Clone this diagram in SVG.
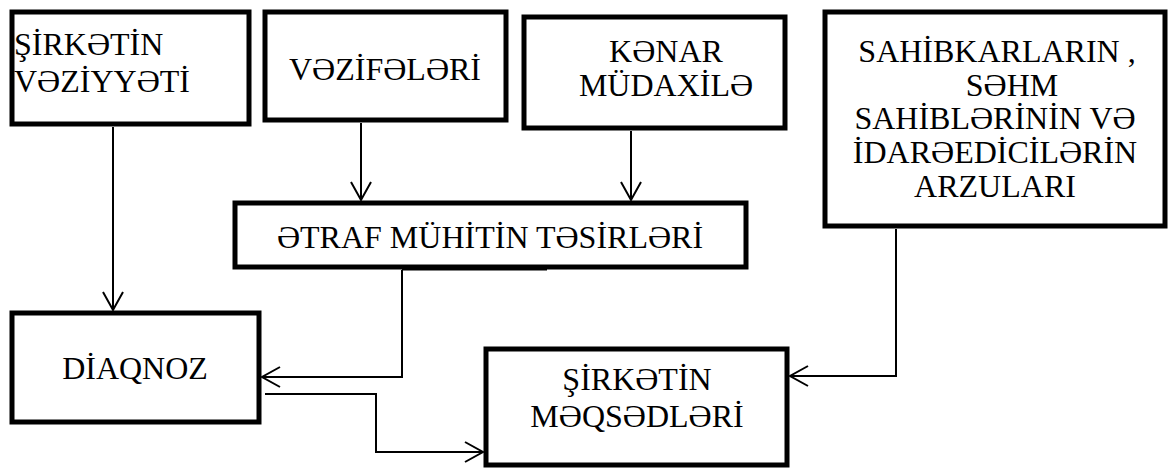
<svg xmlns="http://www.w3.org/2000/svg" width="1169" height="468" viewBox="0 0 1169 468">
<defs>
<marker id="ah" markerUnits="userSpaceOnUse" markerWidth="24" markerHeight="24" viewBox="-20 -12 22 24" refX="0" refY="0" orient="auto">
<path d="M-18,-10 L0,0 L-18,10" fill="none" stroke="#000" stroke-width="2"/>
</marker>
</defs>
<rect width="1169" height="468" fill="#fff"/>
<g id="n-vez">
<rect x="12" y="12" width="237" height="112" fill="#fff" stroke="#000" stroke-width="5"/>
<text x="14" y="55" font-family="Liberation Serif" font-size="32">ŞİRKƏTİN</text>
<text x="14" y="92" font-family="Liberation Serif" font-size="32">VƏZİYYƏTİ</text>
</g>
<g id="n-vezifeleri">
<rect x="265" y="12" width="241" height="108" fill="#fff" stroke="#000" stroke-width="5"/>
<text x="385" y="80" font-family="Liberation Serif" font-size="32" text-anchor="middle">VƏZİFƏLƏRİ</text>
</g>
<g id="n-kenar">
<rect x="524" y="17" width="261" height="111" fill="#fff" stroke="#000" stroke-width="5"/>
<text x="666" y="62" font-family="Liberation Serif" font-size="32" text-anchor="middle">KƏNAR</text>
<text x="666" y="96" font-family="Liberation Serif" font-size="32" text-anchor="middle">MÜDAXİLƏ</text>
</g>
<g id="n-arzu">
<rect x="825" y="12" width="340" height="214" fill="#fff" stroke="#000" stroke-width="5"/>
<text x="997" y="62" font-family="Liberation Serif" font-size="32" text-anchor="middle">SAHİBKARLARIN ,</text>
<text x="1012" y="96" font-family="Liberation Serif" font-size="32" text-anchor="middle">SƏHM</text>
<text x="995" y="129" font-family="Liberation Serif" font-size="32" text-anchor="middle">SAHİBLƏRİNİN VƏ</text>
<text x="995" y="163" font-family="Liberation Serif" font-size="32" text-anchor="middle">İDARƏEDİCİLƏRİN</text>
<text x="995" y="197" font-family="Liberation Serif" font-size="32" text-anchor="middle">ARZULARI</text>
</g>
<g id="n-etraf">
<rect x="235" y="203" width="511" height="64" fill="#fff" stroke="#000" stroke-width="5"/>
<line x1="402" y1="269" x2="547" y2="269" stroke="#000" stroke-width="3"/>
<text x="490" y="248" font-family="Liberation Serif" font-size="32" text-anchor="middle">ƏTRAF MÜHİTİN TƏSİRLƏRİ</text>
</g>
<g id="n-diaqnoz">
<rect x="12" y="313" width="247" height="109" fill="#fff" stroke="#000" stroke-width="5"/>
<text x="135" y="379" font-family="Liberation Serif" font-size="32" text-anchor="middle">DİAQNOZ</text>
</g>
<g id="n-meqsed">
<rect x="486" y="349" width="301" height="116" fill="#fff" stroke="#000" stroke-width="5"/>
<text x="637" y="390" font-family="Liberation Serif" font-size="32" text-anchor="middle">ŞİRKƏTİN</text>
<text x="637" y="427" font-family="Liberation Serif" font-size="32" text-anchor="middle">MƏQSƏDLƏRİ</text>
</g>
<g id="connectors" fill="none" stroke="#000" stroke-width="2">
<path d="M113,127 V310" marker-end="url(#ah)"/>
<path d="M361,123 V200" marker-end="url(#ah)"/>
<path d="M631,131 V200" marker-end="url(#ah)"/>
<path d="M402,270 V377 H262" marker-end="url(#ah)"/>
<path d="M265,394 H376 V452 H483" marker-end="url(#ah)"/>
<path d="M896,229 V376 H790" marker-end="url(#ah)"/>
</g>
</svg>
